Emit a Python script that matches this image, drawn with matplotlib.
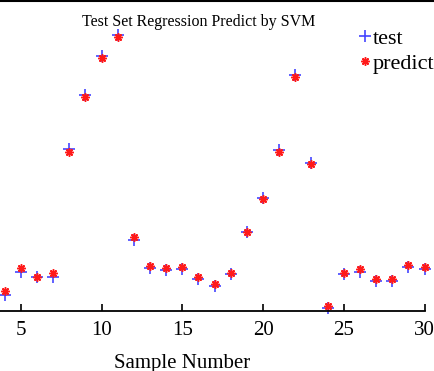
import matplotlib
matplotlib.use("Agg")
import matplotlib.pyplot as plt
from matplotlib.lines import Line2D

plt.rcParams['font.family'] = ['Liberation Serif', 'DejaVu Serif']

# sample index and measured / predicted values of the test set
samples = list(range(4, 31))
test = [5.1, 12.5, 10.9, 10.9, 52.1, 69.5, 82.0, 88.7, 22.8, 13.8, 13.2, 13.5,
        10.3, 8.0, 11.9, 25.4, 36.3, 51.8, 75.9, 47.6, 1.0, 11.9, 12.5, 9.6,
        9.6, 14.1, 13.5]
predict = [6.4, 13.8, 10.9, 12.2, 51.1, 68.8, 81.4, 88.1, 23.8, 14.5, 13.8, 14.1,
           10.9, 8.7, 12.2, 25.4, 36.0, 51.1, 75.2, 47.3, 1.6, 12.2, 13.5, 10.3,
           10.3, 14.8, 14.1]
xticks = [5, 10, 15, 20, 25, 30]

W, H = 434, 371
fig = plt.figure(figsize=(W / 100, H / 100), dpi=100)

# the axes is wider than the figure, so the left part (samples 0-3) is cut off
x0, x1 = -59.8, 424.5
y_bottom = 311
ax = fig.add_axes([x0 / W, (H - y_bottom) / H, (x1 - x0) / W, y_bottom / H])

# matlab-style '+' and '*' markers
ax.plot(samples, test, linestyle='none', marker='+', color='#4646ff',
        markersize=8.5, markeredgewidth=1.2, clip_on=False, label='test')
ax.plot(samples, predict, linestyle='none', marker=(8, 2, 0), color='#ff1a1a',
        markersize=6, markeredgewidth=1.1, clip_on=False, label='predict')

ax.set_xlim(0, 30)
ax.set_ylim(0, 100)
ax.set_xticks(xticks)
ax.set_xticklabels([str(t) for t in xticks], fontsize=15)
ax.set_yticks([])
ax.tick_params(axis='x', direction='in', length=5, width=1.2, pad=7)

for side in ['left', 'right', 'top']:
    ax.spines[side].set_visible(False)
ax.spines['bottom'].set_linewidth(1.3)

ax.set_xlabel('Sample Number', fontsize=15, labelpad=10)

# frame line running along the top edge
fig.add_artist(Line2D([0, 1], [0.998, 0.998], color='black', linewidth=1.5,
                      transform=fig.transFigure))

fig.text(198.5 / W, 1 - 26 / H, 'Test Set Regression Predict by SVM',
         fontsize=11.5, ha='center', va='baseline')

fig.legend(loc='upper right', bbox_to_anchor=(1.0, 1 - 28 / H), frameon=False,
           fontsize=16, handlelength=0.4, handletextpad=0.15, labelspacing=0.2,
           borderpad=0, borderaxespad=0, numpoints=1)

fig.savefig('out.png', dpi=100)
